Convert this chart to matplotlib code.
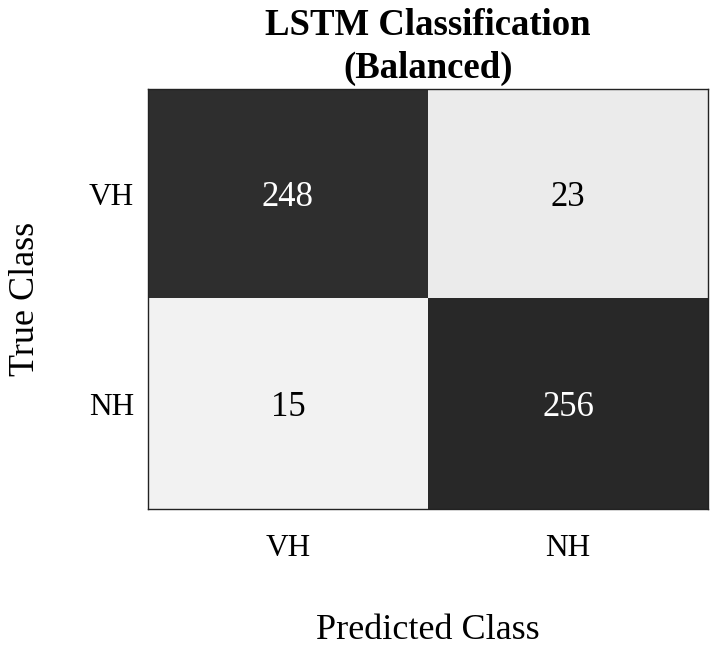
import numpy as np
import matplotlib
matplotlib.use("Agg")
import matplotlib.pyplot as plt
from matplotlib.colors import LinearSegmentedColormap

# confusion matrix values (rows = true, cols = predicted)
class_names = ["VH", "NH"]
row_vh = [248, 23]
row_nh = [15, 256]

cm = np.array([row_vh, row_nh])

plt.rcParams['font.family'] = ['Liberation Serif', 'DejaVu Serif']

fig = plt.figure(figsize=(7.11, 6.49), dpi=100)
ax = fig.add_axes([0.208, 0.2157, 0.788, 0.6473])

cmap = LinearSegmentedColormap.from_list("bw", ["#f2f2f2", "#282828"])
ax.imshow(cm, cmap=cmap, vmin=cm.min(), vmax=cm.max(), aspect="auto")

for i in range(cm.shape[0]):
    for j in range(cm.shape[1]):
        color = "white" if cm[i, j] > cm.max() / 2 else "black"
        ax.text(j, i, str(cm[i, j]), ha="center", va="center_baseline",
                fontsize=25, color=color)

ax.set_xticks(range(len(class_names)))
ax.set_yticks(range(len(class_names)))
ax.set_xticklabels(class_names, fontsize=22.5)
ax.set_yticklabels(class_names, fontsize=22.5)
ax.tick_params(length=0, pad=10)
ax.tick_params(axis='x', pad=18)

for s in ax.spines.values():
    s.set_linewidth(1.0)
    s.set_color("#222222")

ax.set_xlabel("Predicted Class", fontsize=26, labelpad=37)
ax.set_ylabel("True Class", fontsize=26, labelpad=34)
ax.set_title("LSTM Classification\n(Balanced)", fontsize=26.5,
             fontweight="bold", pad=8, linespacing=1.3)

fig.savefig("out.png", dpi=100)
